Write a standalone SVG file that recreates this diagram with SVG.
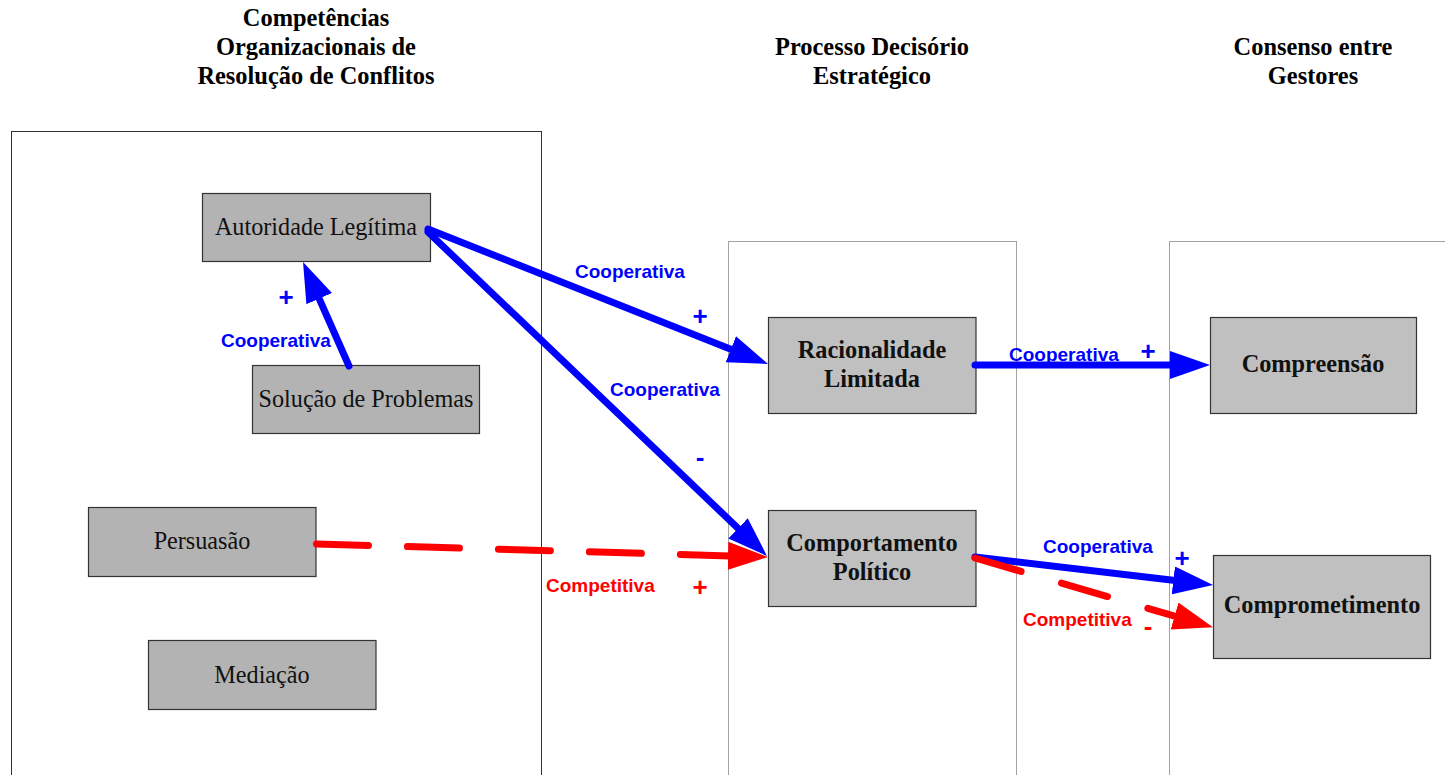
<svg xmlns="http://www.w3.org/2000/svg" width="1445" height="775" viewBox="0 0 1445 775">
<style>
.title{font-family:"Liberation Serif","Times New Roman",serif;font-weight:bold;font-size:24.4px;fill:#000;text-anchor:middle}
.nt{font-family:"Liberation Serif","Times New Roman",serif;font-size:24.2px;fill:#111;text-anchor:middle}
.nb{font-family:"Liberation Serif","Times New Roman",serif;font-weight:bold;font-size:24.3px;fill:#111;text-anchor:middle}
.box1{fill:#b3b3b3;stroke:#333;stroke-width:1.2}
.box2{fill:#c0c0c0;stroke:#333;stroke-width:1.2}
.cont{fill:none;stroke:#333;stroke-width:1}
.contd{fill:none;stroke:#444;stroke-width:1;stroke-dasharray:1 1}
.lb{font-family:"Liberation Sans",Arial,sans-serif;font-weight:bold;font-size:19px;fill:#0000ff}
.lr{font-family:"Liberation Sans",Arial,sans-serif;font-weight:bold;font-size:19px;fill:#ff0000}
.sb{font-family:"Liberation Sans",Arial,sans-serif;font-weight:bold;font-size:26px;fill:#0000ff;text-anchor:middle}
.sr{font-family:"Liberation Sans",Arial,sans-serif;font-weight:bold;font-size:26px;fill:#ff0000;text-anchor:middle}
.cb{fill:none;stroke:#0000ff;stroke-width:7;stroke-linecap:round}
.cr{fill:none;stroke:#ff0000;stroke-width:7;stroke-linecap:round}
</style>
<defs>
<marker id="ahB" markerUnits="userSpaceOnUse" markerWidth="42" markerHeight="30" refX="2" refY="14" orient="auto">
<path d="M0,0 L40,14 L0,28 z" fill="#0000ff"/>
</marker>
<marker id="ahR" markerUnits="userSpaceOnUse" markerWidth="42" markerHeight="30" refX="2" refY="14" orient="auto">
<path d="M0,0 L40,14 L0,28 z" fill="#ff0000"/>
</marker>
</defs>
<rect width="1445" height="775" fill="#fff"/>
<g id="titles">
<text class="title" x="316" y="26">Competências</text>
<text class="title" x="316" y="55">Organizacionais de</text>
<text class="title" x="316" y="84">Resolução de Conflitos</text>
<text class="title" x="872" y="55">Processo Decisório</text>
<text class="title" x="872" y="84">Estratégico</text>
<text class="title" x="1313" y="55">Consenso entre</text>
<text class="title" x="1313" y="84">Gestores</text>
</g>
<g id="containers">
<rect class="cont" x="11.5" y="131.5" width="530" height="700"/>
<rect class="contd" x="728.5" y="241.5" width="288" height="600"/>
<rect class="contd" x="1169.5" y="241.5" width="400" height="600"/>
</g>
<g id="autoridade"><rect class="box1" x="202.5" y="193.5" width="228" height="68"/><text class="nt" x="316" y="235">Autoridade Legítima</text></g>
<g id="solucao"><rect class="box1" x="252.5" y="365.5" width="227" height="68"/><text class="nt" x="366" y="407">Solução de Problemas</text></g>
<g id="persuasao"><rect class="box1" x="88.5" y="507.5" width="227.5" height="69"/><text class="nt" x="202" y="549">Persuasão</text></g>
<g id="mediacao"><rect class="box1" x="148.5" y="640.5" width="227.5" height="69"/><text class="nt" x="262" y="683">Mediação</text></g>
<g id="racionalidade"><rect class="box2" x="768.5" y="317.5" width="207.5" height="96"/><text class="nb" x="872" y="358">Racionalidade</text><text class="nb" x="872" y="387">Limitada</text></g>
<g id="comportamento"><rect class="box2" x="768.5" y="510.5" width="207.5" height="96"/><text class="nb" x="872" y="551">Comportamento</text><text class="nb" x="872" y="580">Político</text></g>
<g id="compreensao"><rect class="box2" x="1210.5" y="317.5" width="206" height="96"/><text class="nb" x="1313" y="372">Compreensão</text></g>
<g id="comprometimento"><rect class="box2" x="1213.5" y="555.5" width="217" height="103"/><text class="nb" x="1322" y="613">Comprometimento</text></g>
<g id="connectors">
<path class="cr" d="M316.5,544 L730,555.9" style="stroke-dasharray:52 39" marker-end="url(#ahR)"/>
<path class="cb" d="M349,366 L318.4,296.8" marker-end="url(#ahB)"/>
<path class="cb" d="M428,229 L732.7,350" marker-end="url(#ahB)"/>
<path class="cb" d="M428,232 L739.5,529.7" marker-end="url(#ahB)"/>
<path class="cb" d="M975,365 L1172,365" marker-end="url(#ahB)"/>
<path class="cb" d="M975,557 L1175.3,580.6" marker-end="url(#ahB)"/>
<path class="cr" d="M975,558 L1176.5,616.6" style="stroke-dasharray:48 42" marker-end="url(#ahR)"/>
</g>
<g id="labels">
<text class="lb" x="221" y="347">Cooperativa</text>
<text class="sb" x="286" y="306">+</text>
<text class="lb" x="575" y="278">Cooperativa</text>
<text class="sb" x="700" y="325">+</text>
<text class="lb" x="610" y="396">Cooperativa</text>
<text class="sb" x="700" y="466">-</text>
<text class="lb" x="1009" y="361">Cooperativa</text>
<text class="sb" x="1148" y="360">+</text>
<text class="lb" x="1043" y="553">Cooperativa</text>
<text class="sb" x="1182" y="567">+</text>
<text class="lr" x="546" y="592">Competitiva</text>
<text class="sr" x="700" y="596">+</text>
<text class="lr" x="1023" y="626">Competitiva</text>
<text class="sr" x="1148" y="635">-</text>
</g>
</svg>
